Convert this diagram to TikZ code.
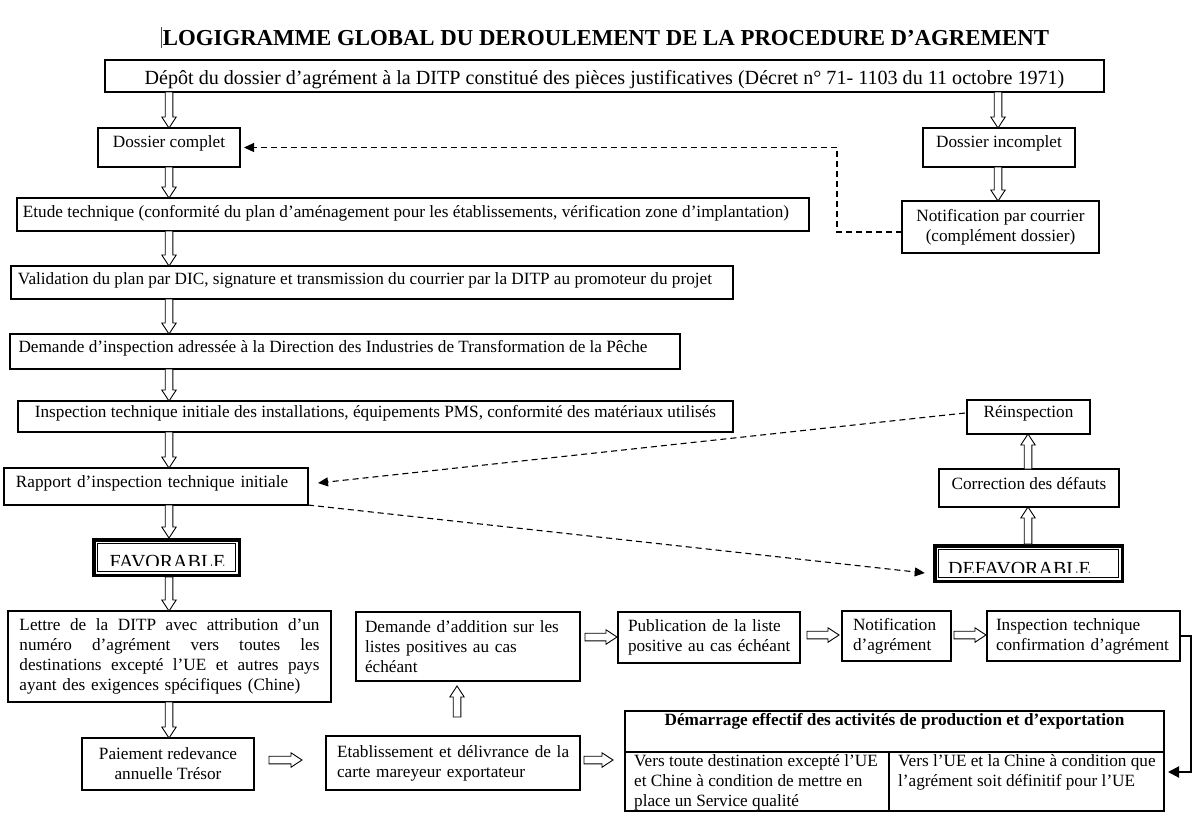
\documentclass[tikz,border=0pt]{standalone}
\usepackage{fontspec}
\setmainfont{Liberation Serif}
\usetikzlibrary{arrows.meta,calc}
\newcommand\bodyf{\fontsize{17.2}{20}\selectfont}
\newcommand\topf{\fontsize{20.1}{23}\selectfont}
\newcommand\titlef{\fontsize{22.8}{26}\selectfont\bfseries}
\newcommand\labf{\fontsize{20}{24}\selectfont}
\newcommand\jline[1]{\leavevmode\hbox to 300pt{#1}}
\tikzset{
 box/.style={draw, line width=1.1pt, inner sep=0pt, outer sep=0pt, font=\bodyf, anchor=north west, fill=white},
 oneline/.style={text height=12pt, text depth=#1},
 barrow/.style={draw, fill=white, line width=0.9pt, line join=miter},
 dashline/.style={dash pattern=on 6pt off 4pt, line width=1.1pt, -{Triangle[length=10pt,width=9pt]}},
 solidarrow/.style={line width=2pt, -{Triangle[length=11pt,width=11pt]}},
 favbox/.style={draw, line width=3.5pt, inner sep=0pt, outer sep=0pt, anchor=north west},
 favinner/.style={line width=1.2pt},
}
\newcommand\blockarrow[2]{\path[barrow] let \p1=#1, \p2=#2, \n1={atan2(\y2-\y1,\x2-\x1)}, \n2={veclen(\x2-\x1,\y2-\y1)} in [shift={(\p1)}, rotate=\n1] (0,-3.8) -- ({\n2-11},-3.8) -- ({\n2-11},-7.2) -- (\n2,0) -- ({\n2-11},7.2) -- ({\n2-11},3.8) -- (0,3.8) -- cycle;}
\begin{document}
\begin{tikzpicture}[x=1pt,y=-1pt]
\path[fill=white, use as bounding box] (0,0) rectangle (1200,839);
% title
\node[font=\titlef, anchor=base, inner sep=0pt] (title) at (606,45) {LOGIGRAMME GLOBAL DU DEROULEMENT DE LA PROCEDURE D’AGREMENT};
\draw[line width=1pt, black!70] (161,27) -- (161,48);
% top
\node[box, font=\topf, minimum width=999pt, minimum height=32pt, text height=22pt, text depth=5pt] (depot) at (105,60) {Dépôt du dossier d’agrément à la DITP constitué des pièces justificatives (Décret n° 71- 1103 du 11 octobre 1971)};
\node[box, minimum width=142pt, minimum height=39pt, oneline=12pt] (dcomplet) at (98,128) {Dossier complet};
\node[box, minimum width=152pt, minimum height=39pt, oneline=12pt] (dincomplet) at (923,128) {Dossier incomplet};
\node[box, minimum width=197pt, minimum height=52pt, align=center] (notif) at (902,201) {Notification par courrier\\(complément dossier)};
\node[box, minimum width=792pt, minimum height=33pt, oneline=6pt] (etude) at (17,198) {Etude technique (conformité du plan d’aménagement pour les établissements, vérification zone d’implantation)\hspace*{14pt}};
\node[box, minimum width=722pt, minimum height=33pt, oneline=8pt] (validation) at (11,266) {Validation du plan par DIC, signature et transmission du courrier par la DITP au promoteur du projet\hspace*{14pt}};
\node[box, minimum width=670pt, minimum height=35pt, oneline=10pt] (demande) at (10,334) {Demande d’inspection adressée à la Direction des Industries de Transformation de la Pêche\hspace*{24pt}};
\node[box, minimum width=715pt, minimum height=31pt, oneline=10pt] (inspinit) at (18,401) {Inspection technique initiale des installations, équipements PMS, conformité des matériaux utilisés};
\node[box, minimum width=304pt, minimum height=37pt, oneline=10pt, inner xsep=12pt, text width=280pt, align=left] (rapport) at (4,468) {Rapport d’inspection technique initiale};
% favorable
\node[favbox, minimum width=145.5pt, minimum height=35.5pt] (favorable) at (93.75,539.75) {};
\node[font=\labf, anchor=base, inner sep=0pt] (favtext) at (167.5,568) {FAVORABLE};
\fill[white] ($(favorable.south west)+(5,-9)$) rectangle ($(favorable.south east)+(-5,-4.8)$);
\draw[favinner] ($(favorable.north west)+(4,4)$) rectangle ($(favorable.south east)+(-4,-4)$);
% defavorable
\node[favbox, minimum width=187.5pt, minimum height=35.5pt] (defavorable) at (934.75,545.75) {};
\node[font=\labf, anchor=base west, inner sep=0pt] (deftext) at (948,575) {DEFAVORABLE};
\fill[white] ($(defavorable.south west)+(5,-8)$) rectangle ($(defavorable.south east)+(-5,-4.8)$);
\draw[favinner] ($(defavorable.north west)+(4,4)$) rectangle ($(defavorable.south east)+(-4,-4)$);
\node[box, minimum width=123pt, minimum height=34pt, oneline=11pt] (reinsp) at (967,400) {Réinspection};
\node[box, minimum width=180pt, minimum height=38pt, oneline=9pt] (correction) at (939,469) {Correction des défauts};
% bottom
\node[box, minimum width=323pt, minimum height=91pt, inner xsep=11.5pt, text width=300pt, align=left] (lettre) at (8,611) {\jline{Lettre \hfill de \hfill la \hfill DITP \hfill avec \hfill attribution \hfill d’un}\\\jline{numéro \hfill d’agrément \hfill vers \hfill toutes \hfill les}\\\jline{destinations \hfill excepté \hfill l’UE \hfill et \hfill autres \hfill pays}\\\mbox{ayant des exigences spécifiques (Chine)}};
\node[box, minimum width=172pt, minimum height=52pt, align=center] (paiement) at (82,738) {Paiement redevance\\annuelle Trésor};
\node[box, minimum width=254pt, minimum height=54pt, inner xsep=11pt, text width=232pt, align=left] (etab) at (326,736) {\mbox{Etablissement et délivrance de la}\\\mbox{carte mareyeur exportateur}};
\node[box, minimum width=224pt, minimum height=69pt, inner xsep=9pt, text width=206pt, align=left] (demadd) at (356,612) {\mbox{Demande d’addition sur les}\\\mbox{listes positives au cas}\\\mbox{échéant}};
\node[box, minimum width=182pt, minimum height=51pt, inner xsep=10pt, text width=162pt, align=left] (publi) at (618,612) {\mbox{Publication de la liste}\\\mbox{positive au cas échéant}};
\node[box, minimum width=109pt, minimum height=50pt, inner xsep=11pt, text width=87pt, align=left] (notifagr) at (842,611) {\mbox{Notification}\\\mbox{d’agrément}};
\node[box, minimum width=193pt, minimum height=50pt, inner xsep=9pt, text width=175pt, align=left] (inspconf) at (987,611) {\mbox{Inspection technique}\\\mbox{confirmation d’agrément}};
% table
\node[box, minimum width=539pt, minimum height=100pt] (demarrage) at (625,711) {};
\draw[line width=1.1pt] ($(demarrage.north west)+(0,41)$) -- ($(demarrage.north east)+(0,41)$);
\draw[line width=1.1pt] ($(demarrage.north west)+(264,41)$) -- ($(demarrage.south west)+(264,0)$);
\node[anchor=base, font=\bodyf\bfseries, inner sep=0pt] (dhead) at (894.5,725) {Démarrage effectif des activités de production et d’exportation};
\node[anchor=north west, font=\bodyf, align=left, inner sep=0pt] (cellL) at (634,754) {Vers toute destination excepté l’UE\\et Chine à condition de mettre en\\place un Service qualité};
\node[anchor=north west, font=\bodyf, align=left, inner sep=0pt] (cellR) at (898,754) {Vers l’UE et la Chine à condition que\\l’agrément soit définitif pour l’UE};
% block arrows
\coordinate (colL) at (169,0);
\coordinate (colR) at (998,0);
\coordinate (colC) at (1028,0);
\blockarrow{(depot.south -| colL)}{(dcomplet.north -| colL)}
\blockarrow{(depot.south -| colR)}{(dincomplet.north -| colR)}
\blockarrow{(dincomplet.south -| colR)}{(notif.north -| colR)}
\blockarrow{(dcomplet.south -| colL)}{(etude.north -| colL)}
\blockarrow{(etude.south -| colL)}{(validation.north -| colL)}
\blockarrow{(validation.south -| colL)}{(demande.north -| colL)}
\blockarrow{(demande.south -| colL)}{(inspinit.north -| colL)}
\blockarrow{(inspinit.south -| colL)}{(rapport.north -| colL)}
\blockarrow{(rapport.south -| colL)}{($(favorable.north -| colL)+(0,-1.75)$)}
\blockarrow{($(favorable.south -| colL)+(0,1.75)$)}{(lettre.north -| colL)}
\blockarrow{(lettre.south -| colL)}{(paiement.north -| colL)}
\blockarrow{(correction.north -| colC)}{(reinsp.south -| colC)}
\blockarrow{($(defavorable.north -| colC)+(0,-1.75)$)}{(correction.south -| colC)}
\coordinate (h1s) at ($(paiement.east)+(15,-4)$);
\coordinate (h1e) at ($(h1s -| etab.west)+(-24,0)$);
\blockarrow{(h1s)}{(h1e)}
\coordinate (h2s) at ($(demadd.east)+(5,-9.5)$);
\coordinate (h2e) at ($(h2s -| publi.west)+(-1,0)$);
\blockarrow{(h2s)}{(h2e)}
\coordinate (h3s) at ($(publi.east)+(7,-2.5)$);
\coordinate (h3e) at ($(h3s -| notifagr.west)+(-3,0)$);
\blockarrow{(h3s)}{(h3e)}
\coordinate (h4s) at ($(notifagr.east)+(3,-1)$);
\coordinate (h4e) at ($(h4s -| inspconf.west)+(-1,0)$);
\blockarrow{(h4s)}{(h4e)}
\coordinate (h5s) at ($(etab.east)+(4,-3)$);
\coordinate (h5e) at ($(h5s -| demarrage.west)+(-12,0)$);
\blockarrow{(h5s)}{(h5e)}
\coordinate (u1) at ($(etab.north)+(4,-19)$);
\coordinate (u2) at ($(u1 |- demadd.south)+(0,5)$);
\blockarrow{(u1)}{(u2)}
% dashed connectors
\draw[dashline] ($(notif.west)+(0,5)$) -| ($(dcomplet.east)+(597,0)$) -- ($(dcomplet.east)+(4,0)$);
\draw[dashline] ($(reinsp.west)+(-2,-4)$) -- ($(rapport.east)+(10,-3.5)$);
\draw[dashline] (rapport.south east) -- ($(defavorable.west)+(-10,9.5)$);
% solid connector
\draw[solidarrow] (inspconf.east) -- ++(11,0) |- ($(demarrage.east)+(4,11)$);
\end{tikzpicture}
\end{document}
